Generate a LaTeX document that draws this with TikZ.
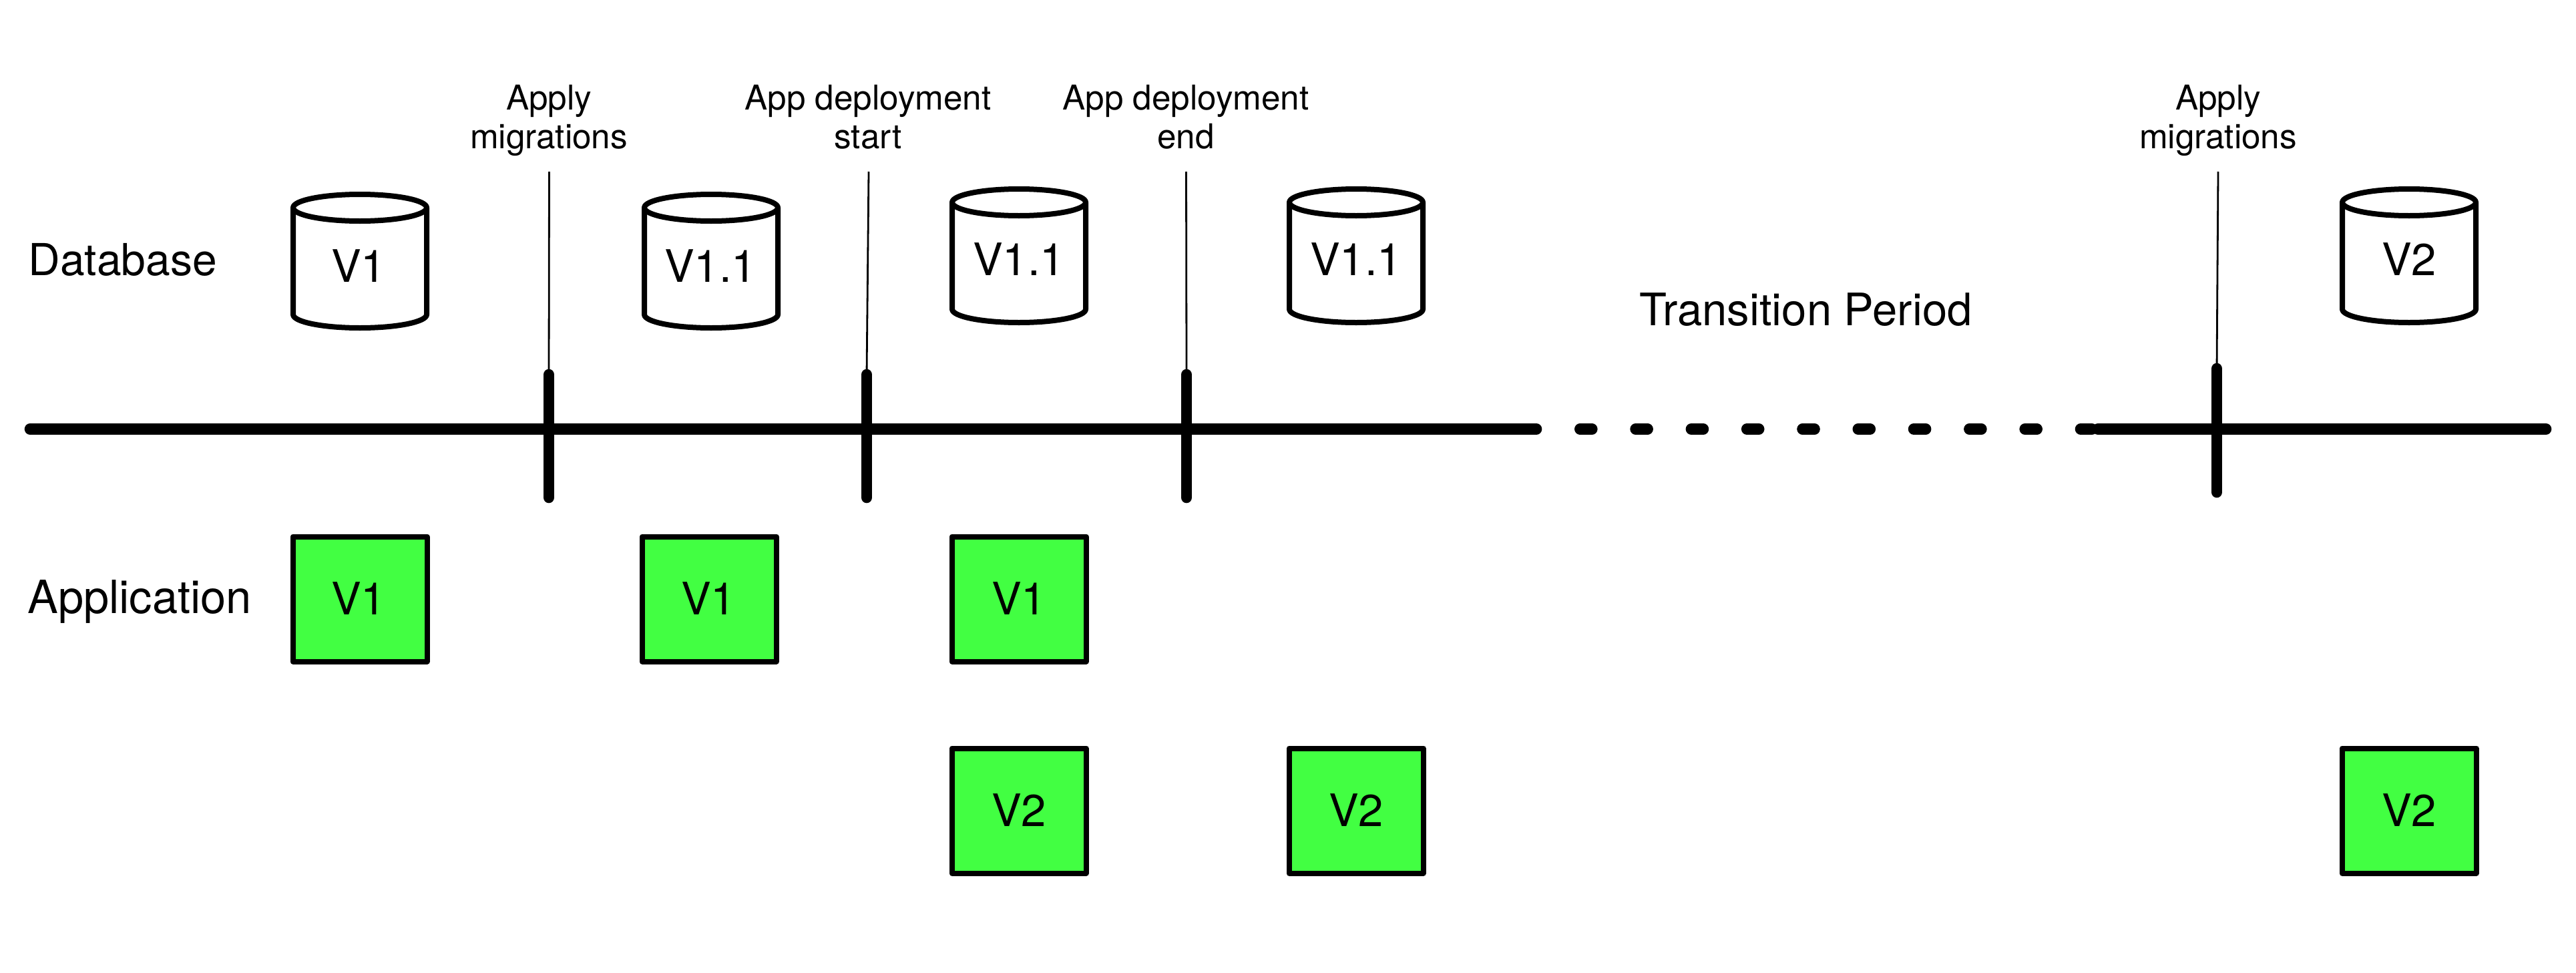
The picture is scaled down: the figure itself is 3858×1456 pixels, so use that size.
\documentclass[tikz,border=0pt]{standalone}
\usepackage{fontspec}
\setmainfont{TeX Gyre Heros}
\definecolor{appgreen}{HTML}{42FF42}
\tikzset{
  x=0.5pt,y=-0.5pt,
  bigtext/.style={anchor=base west,inner sep=0pt},
  vertext/.style={font=\fontsize{33.5}{38}\selectfont,anchor=base,inner sep=0pt},
  smalltext/.style={font=\fontsize{25.6}{29}\selectfont,align=center,anchor=base,inner sep=0pt},
  appbox/.style={draw=black,fill=appgreen,line width=4pt,line join=round,minimum width=100.5pt,minimum height=93.5pt,inner sep=0pt,anchor=center},
  cylbody/.style={draw=black,line width=4pt,line join=round},
  cylanchor/.style={minimum width=100pt,minimum height=100pt,inner sep=0pt,anchor=center},
  timeline/.style={line width=8.3pt,line cap=round},
  tickmark/.style={line width=8.3pt,line cap=round},
  leader/.style={line width=1.4pt},
  dashline/.style={line width=8.3pt,line cap=round,dash pattern=on 9pt off 32.65pt}
}
% name, centre x, centre y, label
\newcommand{\dbcylinder}[4]{%
  \node[cylanchor] (#1) at (#2,#3) {};
  \draw[cylbody] (#2-100,#3-80) -- (#2-100,#3+80)
     arc[start angle=180,end angle=360,x radius=50pt,y radius=10pt]
     -- (#2+100,#3-80);
  \draw[cylbody] (#2,#3-80) ellipse[x radius=50pt,y radius=10pt];
}
\begin{document}
\begin{tikzpicture}
\useasboundingbox (0,0) rectangle (3858,1456);
% labels
\node[bigtext,font=\fontsize{33}{38}\selectfont] (ldb) at (42,412) {Database};
\node[bigtext,font=\fontsize{34.3}{38}\selectfont] (lapp) at (41,918) {Application};
\node[bigtext,font=\fontsize{33.5}{38}\selectfont] (ltrans) at (2455,487) {Transition Period};
% main line
\coordinate (a0) at (45,642.5);
\coordinate (a1) at (2286,642.5);
\coordinate (d0) at (2283,642.5);
\coordinate (d1) at (3133,642.5);
\coordinate (b0) at (3142,642.5);
\coordinate (b1) at (3813,642.5);
\draw[timeline] (a0) -- (a1);
\draw[dashline] (d0) -- (d1);
\draw[timeline] (b0) -- (b1);
% ticks
\coordinate (t1a) at (822,561); \coordinate (t1b) at (822,745);
\coordinate (t2a) at (1298,561); \coordinate (t2b) at (1298,745);
\coordinate (t3a) at (1777,561); \coordinate (t3b) at (1777,745);
\coordinate (t4a) at (3320,552); \coordinate (t4b) at (3320,737);
\draw[tickmark] (t1a) -- (t1b);
\draw[tickmark] (t2a) -- (t2b);
\draw[tickmark] (t3a) -- (t3b);
\draw[tickmark] (t4a) -- (t4b);
% captions and leaders
\node[smalltext] (c1) at (822,222) {Apply\\migrations};
\node[smalltext] (c2) at (1300,222) {App deployment\\start};
\node[smalltext] (c3) at (1776,222) {App deployment\\end};
\node[smalltext] (c4) at (3322,222) {Apply\\migrations};
\coordinate (l1) at (822.5,257); \coordinate (l2) at (1301,257);
\coordinate (l3) at (1776.5,257); \coordinate (l4) at (3322,257);
\draw[leader] (l1) -- (t1a);
\draw[leader] (l2) -- (t2a);
\draw[leader] (l3) -- (t3a);
\draw[leader] (l4) -- (t4a);
% cylinders
\dbcylinder{db1}{539}{391}{V1}
\dbcylinder{db2}{1065}{391}{V1.1}
\dbcylinder{db3}{1526}{383}{V1.1}
\dbcylinder{db4}{2031}{383}{V1.1}
\dbcylinder{db5}{3608}{383}{V2}
\node[vertext] (v1) at (537,422) {V1};
\node[vertext] (v2) at (1064,422) {V1.1};
\node[vertext] (v3) at (1526,412) {V1.1};
\node[vertext] (v4) at (2031,412) {V1.1};
\node[vertext] (v5) at (3608,412) {V2};
% app boxes
\node[appbox] (ap1) at (539,897) {};
\node[appbox] (ap2) at (1062,897) {};
\node[appbox] (ap3) at (1526,897) {};
\node[appbox] (ap4) at (1526,1214) {};
\node[appbox] (ap5) at (2031,1214) {};
\node[appbox] (ap6) at (3608,1214) {};
\node[vertext] (w1) at (537,920) {V1};
\node[vertext] (w2) at (1061,920) {V1};
\node[vertext] (w3) at (1526,920) {V1};
\node[vertext] (w4) at (1526,1237) {V2};
\node[vertext] (w5) at (2031,1237) {V2};
\node[vertext] (w6) at (3608,1237) {V2};
\end{tikzpicture}
\end{document}
